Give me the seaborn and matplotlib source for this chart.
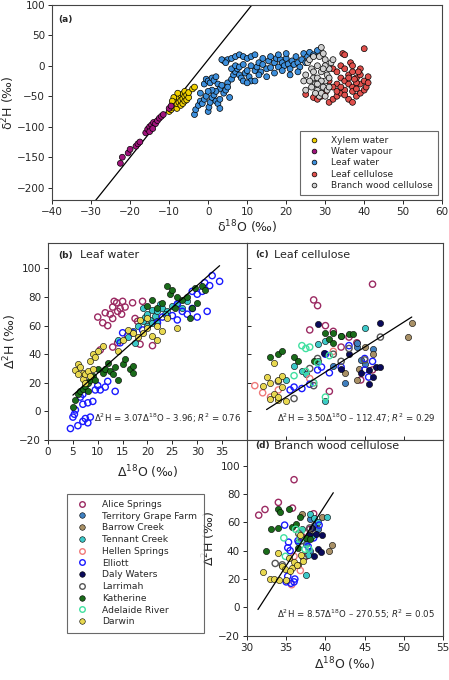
import numpy as np
import pandas as pd
import matplotlib
matplotlib.use("Agg")
import matplotlib.pyplot as plt
from matplotlib.lines import Line2D
import seaborn as sns

# ---------------- Panel (a) data ----------------
xylem = [(-10,-75),(-9.5,-72),(-9,-68),(-9,-60),(-8.5,-65),(-8.5,-57),(-8,-70),(-8,-62),(-8,-55),(-7.5,-60),(-7.5,-52),(-7,-65),(-7,-57),(-7,-48),(-6.5,-62),(-6.5,-54),(-6.5,-46),(-6,-58),(-6,-50),(-6,-42),(-5.5,-56),(-5.5,-48),(-5,-52),(-5,-44),(-4,-38),(-3.5,-35),(-8.8,-52),(-7.8,-45),(-9.2,-58)]
vapour = [(-22.5,-160),(-22,-150),(-20.5,-143),(-20,-137),(-18.5,-132),(-18,-128),(-17.5,-125),(-16,-110),(-15.5,-104),(-15,-100),(-14.5,-97),(-14,-93),(-13.5,-95),(-13,-90),(-12.5,-86),(-12,-83),(-11.5,-80),(-15,-108),(-14.2,-103),(-10,-70),(-9.5,-66)]
leafwater = [(-3.5,-80),(-3.2,-72),(-2.5,-65),(-2,-58),(-1.5,-62),(-1,-55),(-0.5,-50),(0,-75),(0.2,-68),(0.5,-60),(1,-52),(1.5,-48),(2,-58),(2.5,-62),(3,-55),(-1,-30),(-0.5,-22),(0,-25),(0.5,-28),(1,-20),(1.5,-24),(2,-18),(2.5,-30),(3,-38),(3.5,-32),(4,-45),(4.5,-40),(5,-28),(5.5,-52),(6,-22),(6.5,-15),(7,-10),(7.5,-5),(8,-15),(8.5,-20),(9,-25),(9.5,-12),(10,-8),(10.5,-18),(11,-25),(12,-8),(12.5,-2),(13,5),(13.5,-10),(14,2),(15,-5),(15.5,8),(16,-3),(17,5),(17.5,12),(18,-2),(18.5,10),(19,5),(19.5,0),(20,12),(20.5,3),(21,-5),(21.5,8),(22,2),(22.5,15),(23,5),(23.5,-2),(24,10),(24.5,20),(25,5),(25.5,15),(26,22),(27,18),(28,25),(4,8),(5,10),(6,12),(7,15),(8,18),(9,15),(10,12),(11,15),(12,18),(14,12),(16,15),(18,18),(20,20),(3.5,10),(4.5,5),(6,-5),(7,0),(8,-2),(9,2),(11,0),(13,-15),(15,-18),(17,-12),(19,-8),(21,-15),(23,-10),(2,-42),(3,-70),(5,-35),(1,-40),(-2,-45),(0,-42),(10,-28),(12,-25)]
leafcell = [(25,-47),(27,-52),(28,-55),(29,-50),(30,-45),(31,-60),(32,-55),(33,-50),(34,-45),(35,-40),(36,-55),(37,-60),(38,-50),(39,-45),(40,-40),(33,-30),(34,-20),(35,-25),(36,-15),(37,-10),(38,-20),(39,-30),(40,-25),(41,-18),(40.5,-35),(34.5,20),(35,18),(36.5,5),(37,0),(40,28),(32,-5),(33,-10),(34,0),(35,-5),(36,-30),(37,-35),(38,-28),(39,-15),(31,-25),(32,-35),(33,-42),(35,-48),(37,-42),(38,-38),(39,-5),(36,-20),(34,-35),(41,-28),(38.5,-10),(37.5,-22)]
branchcell = [(24.5,-25),(25,-15),(25.5,5),(26,10),(26.5,-5),(27,-20),(27.5,-30),(28,-40),(28.5,-50),(29,-45),(29.5,-35),(30,-25),(30.5,-15),(31,-5),(31.5,5),(32,10),(28,0),(28.5,15),(29,30),(29.5,20),(30,10),(27,-10),(28,-20),(29,-10),(30,0),(31,-20),(26,-25),(27.5,-45),(29,-25),(30.5,-40),(28,-30),(29.5,-5),(31,-35),(26.5,-35),(27,15),(30,-50),(25,-40)]
groups_a = ["Xylem water", "Water vapour", "Leaf water", "Leaf cellulose", "Branch wood cellulose"]
colors_a = ["#f0d000", "#a0147c", "#3d8fdc", "#e0504c", "#d0d0d0"]
gmwl_x = [-30, 12]  # GMWL: d2H = 8 d18O + 10

# ---------------- Panels (b)-(d) data ----------------
sites = ["Alice Springs", "Territory Grape Farm", "Barrow Creek", "Tennant Creek", "Hellen Springs",
         "Elliott", "Daly Waters", "Larrimah", "Katherine", "Adelaide River", "Darwin"]
site_colors = ["#9b2a62", "#3f7fbf", "#a89066", "#3cc8c8", "#f07a7a", "#1a1aff",
               "#0a0a5a", "#555555", "#1a6b1a", "#40e0a0", "#e8d850"]
site_filled = [False, True, True, True, False, False, True, False, True, False, True]

b_data = {
 "Alice Springs": [(10,66),(11,62),(11.5,69),(12,60),(12.5,68),(13,73),(13.3,77),(13.8,76),(14,70),(14.5,72),(15,77),(14.8,68),(15.5,73),(13,65),(14,48),(16,53),(17,76),(18,63),(19,77),(18.5,47),(21,46),(17.5,65),(20,65),(13,45),(10.5,43)],
 "Elliott": [(4.5,-12),(5,-4),(5.3,-2),(5.5,1),(6,-10),(7,-7),(7.5,-5),(8,-8),(8.5,-4),(7,5),(8,6),(9,7),(6.5,10),(7,12),(9.5,15),(10,18),(10.5,15),(11.5,17),(12,21),(13.5,14),(14.5,48),(15,55),(17,55),(19,57),(22,62),(23,66),(25,67),(26,64),(27,70),(28,68),(29,72),(30,66),(30,82),(31,84),(31.5,90),(32,70),(32.5,88),(33,95),(34.5,91),(29,84),(26,75)],
 "Katherine": [(5,3),(5.5,8),(6,12),(6.5,14),(7,16),(7.5,18),(8,20),(8.5,22),(9,25),(9.5,22),(8,14),(10,30),(11,27),(11.5,30),(12,34),(12.5,28),(13,26),(13.5,31),(14,22),(15,33),(15.5,37),(16.5,30),(17,32),(17,27),(21,78),(22,72),(24,88),(24.5,82),(25,85),(26,80),(27,78),(28,80),(29,72),(30,76),(31,88),(31.5,85),(28.5,65),(20,74),(23,76),(25.5,72),(29.5,86)],
 "Darwin": [(5.5,29),(6,33),(6.5,31),(7,27),(7,23),(7.5,26),(8,28),(8.5,35),(9,40),(9.5,38),(9,30),(10,42),(8.5,25),(11,46),(14,42),(15,50),(16,57),(17,55),(18,52),(19,55),(20,58),(21,53),(22,60),(23,56),(24,65),(26,58),(20,65),(22,50),(18.5,64),(6,26),(7.5,20)],
 "Tennant Creek": [(14,50),(16,52),(17,56),(18,60),(19,63),(19.5,66),(20,68),(20.5,64),(21,71),(21.5,67),(22,70),(22.5,75),(23,72),(24,70),(25,74),(26,76),(27,72),(28,77),(19,72),(20,60),(22,63),(24,67),(17.5,48),(21,62),(23.5,68)],
}
c_data = {
 "Alice Springs": [(38.5,78),(39,74),(40,60),(41,56),(43,52),(44,48),(38,57),(46,89),(42,45),(40.5,14),(46,29),(44.5,22)],
 "Territory Grape Farm": [(44,45),(42.5,20),(45,33),(44,48),(41,32),(46,44),(44.5,36)],
 "Barrow Creek": [(50.5,52),(51,62),(44,22),(45,45),(46,40),(42.5,27),(44.3,30)],
 "Tennant Creek": [(35,22),(36,32),(37,28),(39,35),(40,49),(42,53),(45,58),(39,47),(40,7),(37.5,26)],
 "Hellen Springs": [(31,18),(32,13),(33,10),(34,15),(38,23),(38.5,20),(41,42)],
 "Elliott": [(35.5,15),(36,17),(37,16),(38,19),(39,29),(39.5,31),(40,40),(42,31),(45,37),(46,35),(45,29),(40.5,27),(43,46),(45.5,24)],
 "Daly Waters": [(39,61),(39.8,41),(43,40),(44.5,27),(45.5,29),(46,24),(46.5,31),(47,31),(47,62),(45.5,19),(42,30)],
 "Larrimah": [(34,21),(36,9),(38,30),(39,37),(41,40),(42,35),(43,44),(45,36),(47,52),(38.5,18)],
 "Katherine": [(33,38),(34,40),(34.5,42),(36,38),(36.5,35),(38.5,35),(40,55),(41,55),(43,54),(42,53),(40.5,51),(41,48),(43.5,54)],
 "Adelaide River": [(37,46),(37.5,44),(38,45),(36,25),(37.5,28),(39,34),(40,10),(40.5,39),(38.5,20)],
 "Darwin": [(32,18),(32.5,24),(33,9),(33.5,12),(34,8),(34.5,17),(34,22),(34.5,25),(33,20),(35,7),(34,10),(33.5,34)],
}
d_data = {
 "Alice Springs": [(31.5,65),(32.3,69),(34,74),(36,90),(35.8,70),(38,55),(38.5,66),(37,50),(37.5,36)],
 "Territory Grape Farm": [(38,62),(38.5,58),(37.5,45),(39,55),(38,40)],
 "Barrow Creek": [(37,66),(39.5,64),(40.5,40),(40.8,44),(36.5,30),(38,52)],
 "Tennant Creek": [(36.5,46),(37.5,23),(38,66),(38.5,63),(39,60),(40.2,64),(37,55),(38.3,50),(37.8,37)],
 "Hellen Springs": [(36,36),(36.8,26),(35.7,16)],
 "Elliott": [(34.8,58),(35.3,46),(35.2,42),(35.5,40),(35.2,22),(35.6,17),(36,18),(36.1,20),(39.2,58),(38.5,49),(36.5,47),(35,18),(37.8,43)],
 "Daly Waters": [(37.9,51),(38.3,56),(39,41),(39.4,39),(39.5,51),(38.5,36),(38.8,52)],
 "Larrimah": [(33.6,31),(34.5,30),(36.6,52),(37.2,35),(38,56),(37,47)],
 "Katherine": [(32.4,40),(33.1,55),(34,56),(34,69),(34.2,67),(35.4,69),(35.8,57),(36.2,59),(36.8,64),(37.5,49),(36.5,42),(38,48)],
 "Adelaide River": [(34.7,49),(34.9,36),(36.2,55),(36.9,54),(37.4,41),(37.9,41),(36.8,48)],
 "Darwin": [(32.1,25),(32.9,20),(33.5,20),(34,38),(34.1,19),(34.5,29),(34.9,27),(35,19),(35.4,35),(35.7,28),(36,32),(36.4,30),(35.5,26),(36.9,37),(37.1,33),(36.8,51)],
}
fits = {"b": (3.07, -3.96, 5, 34.5), "c": (3.50, -112.47, 32.5, 51), "d": (8.57, -270.55, 31.4, 41)}

# ---------------- Plot ----------------
sns.set_style("ticks")
plt.rcParams['font.family'] = ['DejaVu Sans']
fig = plt.figure(figsize=(4.49, 6.8), dpi=100)
axa = fig.add_axes([0.116, 0.706, 0.869, 0.287])
axb = fig.add_axes([0.107, 0.353, 0.443, 0.290])
axc = fig.add_axes([0.550, 0.353, 0.437, 0.290])
axd = fig.add_axes([0.550, 0.065, 0.437, 0.288])

for ax in (axa, axb, axc, axd):
    for s in ax.spines.values():
        s.set_linewidth(0.8); s.set_color("#444444")
    ax.tick_params(labelsize=7.5, length=3, width=0.7, pad=2)

# panel a
rows = []
for g, pts in zip(groups_a, [xylem, vapour, leafwater, leafcell, branchcell]):
    for x, y in pts:
        rows.append((g, x, y))
dfa = pd.DataFrame(rows, columns=["group", "x", "y"])
gx = np.array(gmwl_x)
axa.plot(gx, 8 * gx + 10, color="black", lw=0.9, zorder=1)
sns.scatterplot(data=dfa, x="x", y="y", hue="group", hue_order=groups_a, palette=colors_a,
                ax=axa, s=18, edgecolor="black", linewidth=0.5, zorder=3)
axa.set_xlim(-40, 60); axa.set_ylim(-220, 100)
axa.set_xticks(range(-40, 61, 10)); axa.set_yticks(range(-200, 101, 50))
axa.set_xlabel("δ$^{18}$O (‰)", fontsize=9, labelpad=1)
axa.set_ylabel("δ$^{2}$H (‰)", fontsize=9, labelpad=0)
axa.text(0.015, 0.95, "(a)", transform=axa.transAxes, fontsize=6.5, fontweight="bold", va="top")
leg = axa.legend(loc="lower right", fontsize=6.5, frameon=True, fancybox=False, edgecolor="#444444",
                 borderpad=0.6, handletextpad=0.8, labelspacing=0.25, title=None, markerscale=0.8)
leg.get_frame().set_linewidth(0.8)

def site_scatter(ax, data):
    rows = []
    for site, pts in data.items():
        for x, y in pts:
            rows.append((site, x, y))
    df = pd.DataFrame(rows, columns=["site", "x", "y"])
    for site, col, filled in zip(sites, site_colors, site_filled):
        sub = df[df.site == site]
        if sub.empty:
            continue
        if filled:
            sns.scatterplot(data=sub, x="x", y="y", ax=ax, s=20, color=col, edgecolor="black",
                            linewidth=0.4, legend=False, zorder=3)
        else:
            sns.scatterplot(data=sub, x="x", y="y", ax=ax, s=20, facecolor="none", edgecolor=col,
                            linewidth=1.0, legend=False, zorder=3)

for ax, data, key in ((axb, b_data, "b"), (axc, c_data, "c"), (axd, d_data, "d")):
    site_scatter(ax, data)
    m, c0, x0, x1 = fits[key]
    xx = np.array([x0, x1])
    ax.plot(xx, m * xx + c0, color="black", lw=0.9, zorder=4)
    ax.set_ylim(-20, 118)
    ax.set_yticks(range(-20, 101, 20))
    ax.set_xlabel(""); ax.set_ylabel("")

axb.set_xlim(0, 40); axb.set_xticks(range(0, 36, 5))
axc.set_xlim(30, 55); axd.set_xlim(30, 55)
axc.set_xticks(range(30, 56, 5)); axd.set_xticks(range(30, 56, 5))
axc.tick_params(labelleft=False, labelbottom=False, direction="in")
axb.set_xlabel("Δ$^{18}$O (‰)", fontsize=9, labelpad=5)
axb.set_ylabel("Δ$^{2}$H (‰)", fontsize=9, labelpad=0)
axd.set_xlabel("Δ$^{18}$O (‰)", fontsize=9, labelpad=2)
axd.set_ylabel("Δ$^{2}$H (‰)", fontsize=9, labelpad=0)

axb.text(0.05, 0.96, "(b)", transform=axb.transAxes, fontsize=6.5, fontweight="bold", va="top")
axb.text(0.16, 0.965, "Leaf water", transform=axb.transAxes, fontsize=8, va="top")
axc.text(0.04, 0.965, "(c)", transform=axc.transAxes, fontsize=6.5, fontweight="bold", va="top")
axc.text(0.14, 0.965, "Leaf cellulose", transform=axc.transAxes, fontsize=8, va="top")
axd.text(0.04, 0.995, "(d)", transform=axd.transAxes, fontsize=6.5, fontweight="bold", va="top")
axd.text(0.14, 0.995, "Branch wood cellulose", transform=axd.transAxes, fontsize=8, va="top")
axb.text(0.97, 0.09, "Δ$^{2}$H = 3.07Δ$^{18}$O – 3.96; $R^{2}$ = 0.76", transform=axb.transAxes,
         fontsize=6.2, ha="right")
axc.text(0.96, 0.09, "Δ$^{2}$H = 3.50Δ$^{18}$O – 112.47; $R^{2}$ = 0.29", transform=axc.transAxes,
         fontsize=6.2, ha="right")
axd.text(0.96, 0.09, "Δ$^{2}$H = 8.57Δ$^{18}$O – 270.55; $R^{2}$ = 0.05", transform=axd.transAxes,
         fontsize=6.2, ha="right")

handles = []
for site, col, filled in zip(sites, site_colors, site_filled):
    if filled:
        h = Line2D([], [], ls="", marker="o", ms=4, mfc=col, mec="black", mew=0.4)
    else:
        h = Line2D([], [], ls="", marker="o", ms=4, mfc="none", mec=col, mew=1.0)
    handles.append(h)
leg2 = fig.legend(handles, sites, loc="upper left", bbox_to_anchor=(0.138, 0.281), fontsize=6.6,
                  frameon=True, fancybox=False, edgecolor="#444444", borderpad=0.7,
                  labelspacing=0.3, handletextpad=1.2)
leg2.get_frame().set_linewidth(0.8)

fig.savefig("out.png", dpi=100)
